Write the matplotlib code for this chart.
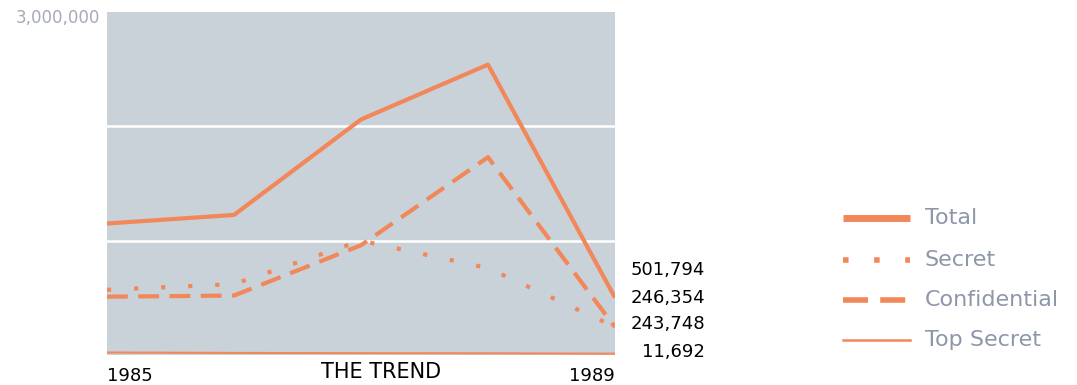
import matplotlib.pyplot as plt
from matplotlib.lines import Line2D

# classification actions per year
years = [1985, 1986, 1987, 1988, 1989]
total = [1150000, 1225000, 2060000, 2540000, 501794]
secret = [570000, 620000, 1000000, 760000, 246354]
confidential = [510000, 520000, 960000, 1730000, 243748]
top_secret = [22000, 18000, 16000, 15000, 11692]

end_labels = ['501,794', '246,354', '243,748', '11,692']
label_y = [740000, 500000, 270000, 30000]

series_names = ['Total', 'Secret', 'Confidential', 'Top Secret']

orange = '#f2875a'
bg = '#c9d1d9'
grey_text = '#8d97aa'

fig = plt.figure(figsize=(10.77, 3.85), dpi=100)
ax = fig.add_axes([107 / 1077, 30 / 385, 508 / 1077, 343 / 385])
ax.set_facecolor(bg)

for v in [1000000, 2000000]:
    ax.axhline(v, color='white', lw=1.8, zorder=1)

ax.plot(years, total, color=orange, lw=3, solid_capstyle='butt', zorder=3)
ax.plot(years, secret, color=orange, lw=3, linestyle=(0, (1, 5.5)), zorder=3)
ax.plot(years, confidential, color=orange, lw=3, linestyle=(0, (5, 2.5)), zorder=3)
ax.plot(years, top_secret, color=orange, lw=1.5, zorder=3)

ax.set_xlim(years[0], years[-1])
ax.set_ylim(0, 3000000)
ax.set_xticks([])
ax.set_yticks([])
for s in ax.spines.values():
    s.set_visible(False)

ax.annotate('3,000,000', xy=(0, 1), xycoords='axes fraction', xytext=(-5, -4),
            textcoords='offset points', ha='right', va='center',
            fontsize=12, color='#a4abb6', annotation_clip=False)
ax.text(0.0, -0.035, '1985', transform=ax.transAxes, ha='left', va='top',
        fontsize=13, color='black')
ax.text(1.0, -0.035, '1989', transform=ax.transAxes, ha='right', va='top',
        fontsize=13, color='black')
ax.text(0.54, -0.02, 'THE TREND', transform=ax.transAxes, ha='center', va='top',
        fontsize=15, color='black')

for txt, y in zip(end_labels, label_y):
    ax.annotate(txt, xy=(1, y), xycoords=('axes fraction', 'data'),
                xytext=(65, 0), textcoords='offset points', ha='right', va='center',
                fontsize=13, color='black', annotation_clip=False)

# hand-placed legend on the right
styles = [
    dict(lw=5, linestyle='-', solid_capstyle='butt'),
    dict(lw=4, linestyle=(0, (1, 4.6)), dash_capstyle='butt'),
    dict(lw=4, linestyle=(0, (4.5, 2.2)), dash_capstyle='butt'),
    dict(lw=1.8, linestyle='-'),
]
row_y = [218, 260, 300, 340]
for name, st, yy in zip(series_names, styles, row_y):
    fy = 1 - yy / 385
    fig.add_artist(Line2D([843 / 1077, 910 / 1077], [fy, fy], color=orange,
                          transform=fig.transFigure, **st))
    fig.text(925 / 1077, fy, name, ha='left', va='center', fontsize=16,
             color=grey_text)

fig.savefig('out.png', dpi=100)
